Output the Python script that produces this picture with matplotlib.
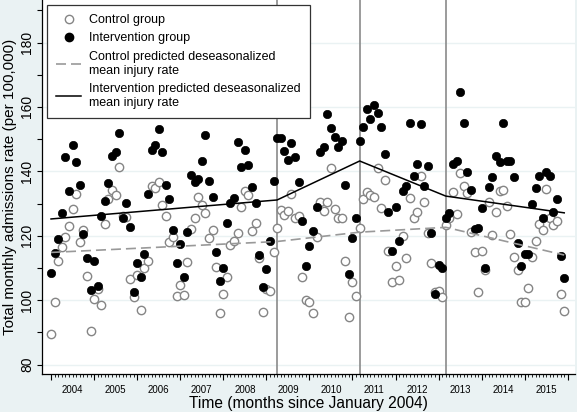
import matplotlib.pyplot as plt
import numpy as np
from matplotlib.lines import Line2D
from matplotlib.transforms import blended_transform_factory

plt.rcParams['font.family'] = ['Liberation Sans', 'DejaVu Sans']

# monthly rates, Jan 2004 .. Dec 2015
control = [
    89.4, 99.5, 112.2, 116.4, 119.5, 123.0, 128.3, 133.0, 118.0, 121.8, 107.5, 90.4,
    100.3, 103.4, 98.5, 123.5, 131.4, 134.3, 132.6, 141.4, 126.0, 125.7, 106.6, 101.1,
    107.8, 96.9, 110.0, 112.2, 135.4, 134.7, 136.6, 129.5, 126.1, 118.0, 119.5, 101.3,
    104.7, 101.6, 111.7, 122.0, 125.4, 132.1, 129.5, 127.0, 119.2, 121.9, 110.2, 95.9,
    101.8, 107.3, 117.1, 118.3, 120.8, 129.0, 134.0, 132.6, 121.6, 124.1, 113.0, 96.4,
    103.4, 102.8, 115.0, 122.3, 128.0, 126.4, 127.7, 132.9, 125.6, 126.2, 107.3, 100.0,
    99.3, 95.9, 119.7, 130.6, 127.7, 130.6, 141.1, 128.3, 125.6, 125.6, 112.1, 94.8,
    105.7, 101.4, 122.3, 131.3, 133.7, 132.6, 132.1, 140.9, 128.5, 137.3, 115.3, 105.7,
    110.7, 106.2, 120.0, 113.2, 131.6, 125.6, 127.5, 138.6, 130.6, 120.9, 111.6, 102.4,
    102.8, 100.9, 123.3, 125.6, 133.7, 126.6, 139.4, 135.5, 133.2, 121.2, 115.0, 102.6,
    115.3, 109.3, 130.6, 120.2, 127.5, 134.0, 134.2, 129.2, 120.4, 113.3, 109.3, 99.5,
    99.3, 103.7, 113.5, 118.4, 123.5, 121.8, 134.4, 125.4, 123.3, 124.7, 101.9, 96.6,
]
intervention = [
    108.3, 114.7, 119.0, 127.0, 144.3, 134.0, 148.2, 142.8, 135.8, 120.5, 113.0, 103.1,
    112.0, 104.4, 126.0, 130.9, 136.4, 144.7, 145.9, 151.9, 125.4, 130.2, 122.8, 102.4,
    111.4, 107.3, 114.2, 133.0, 146.6, 148.2, 153.0, 146.1, 135.7, 131.4, 121.9, 111.5,
    117.4, 107.3, 121.3, 138.9, 136.6, 137.6, 143.3, 151.3, 137.0, 131.9, 115.0, 106.0,
    109.9, 123.9, 130.1, 131.8, 149.2, 141.2, 146.6, 142.0, 135.2, 130.1, 114.0, 104.0,
    109.7, 118.2, 137.0, 150.2, 150.2, 146.3, 143.5, 148.7, 144.3, 136.6, 124.7, 110.6,
    116.9, 121.4, 129.0, 145.9, 147.6, 157.7, 153.5, 150.6, 147.5, 149.4, 135.7, 108.1,
    119.2, 125.6, 149.3, 153.9, 159.3, 156.2, 160.6, 158.2, 153.9, 145.3, 127.5, 115.3,
    128.8, 118.5, 133.9, 135.4, 154.9, 138.5, 142.3, 154.7, 135.4, 141.8, 120.8, 101.8,
    110.9, 110.1, 125.6, 127.0, 142.2, 143.2, 164.7, 154.9, 139.9, 134.2, 122.0, 122.5,
    128.5, 110.1, 135.2, 138.3, 144.8, 143.0, 154.9, 143.2, 143.2, 138.3, 117.7, 110.7,
    114.3, 114.3, 129.8, 134.7, 138.6, 125.4, 139.9, 138.6, 127.5, 131.3, 113.7, 107.0,
]
months = np.arange(len(control))

# segment break points (months since Jan 2004) and fitted trend
breaks = [63, 86, 110]
trend_x = [0, 63, 86, 110, 143]
control_trend = [114.8, 118.2, 121.1, 122.6, 114.0]
intervention_trend = [125.2, 131.1, 143.2, 132.3, 127.1]

years = list(range(2004, 2016))

bg = '#eaf2f3'
fig = plt.figure(figsize=(5.77, 4.12), dpi=100, facecolor=bg)
ax = fig.add_axes([41.7 / 577, 38 / 412, 533.3 / 577, 374 / 412])
ax.set_facecolor('white')

ax.set_ylim(77.05, 193.2)
ax.set_xlim(-2.6, 146)

ax.set_yticks(range(80, 200, 10))
ax.set_yticklabels([str(v) if v % 20 == 0 else '' for v in range(80, 200, 10)])
for v in range(80, 200, 20):
    ax.axhline(v, color=bg, lw=1.0, zorder=0)
for lab in ax.get_yticklabels():
    lab.set_rotation(90)
    lab.set_va('center')
ax.tick_params(axis='y', length=3.5, width=0.8, labelsize=10, pad=2)

ax.set_xticks(range(0, 145, 12))
ax.set_xticklabels([])
ax.set_xticks(months, minor=True)
ax.tick_params(axis='x', which='major', length=4.5, width=0.8)
ax.tick_params(axis='x', which='minor', length=2.2, width=0.6)
trans = blended_transform_factory(ax.transData, ax.transAxes)
for i, yr in enumerate(years):
    ax.text(12 * i + 6, -0.043, str(yr), transform=trans, ha='center',
            va='center', fontsize=7)

for s in ['top', 'right']:
    ax.spines[s].set_visible(False)
for s in ['left', 'bottom']:
    ax.spines[s].set_linewidth(0.9)

for b in breaks:
    ax.axvline(b, color='#8a8a8a', lw=1.2, zorder=1)

ax.plot(months, control, 'o', ms=6, mfc='white', mec='#858585', mew=1.0,
        zorder=2)
ax.plot(months, intervention, 'o', ms=6, mfc='black', mec='black', mew=0.5,
        zorder=3)
ax.plot(trend_x, control_trend, color='#999999', lw=1.2, dashes=(6, 3),
        zorder=4)
ax.plot(trend_x, intervention_trend, color='black', lw=1.1, zorder=4)

ax.set_ylabel('Total monthly admissions rate (per 100,000)', fontsize=11,
              labelpad=2)
ax.set_xlabel('Time (months since January 2004)', fontsize=11.2, labelpad=7.5)

handles = [
    Line2D([], [], ls='none', marker='o', ms=6, mfc='white', mec='#858585'),
    Line2D([], [], ls='none', marker='o', ms=6, mfc='black', mec='black'),
    Line2D([], [], color='#999999', lw=1.2, dashes=(6, 3)),
    Line2D([], [], color='black', lw=1.1),
]
labels = ['Control group', 'Intervention group',
          'Control predicted deseasonalized\nmean injury rate',
          'Intervention predicted deseasonalized\nmean injury rate']
leg = ax.legend(handles, labels, loc='upper left', bbox_to_anchor=(0.01, 0.987),
                borderaxespad=0, fontsize=9, handlelength=2.0, labelspacing=0.5,
                fancybox=False, framealpha=1, edgecolor='#333333',
                borderpad=0.75, handletextpad=0.6)
leg.get_frame().set_linewidth(0.9)
leg.set_zorder(6)

fig.savefig('out.png', dpi=100, facecolor=bg)
